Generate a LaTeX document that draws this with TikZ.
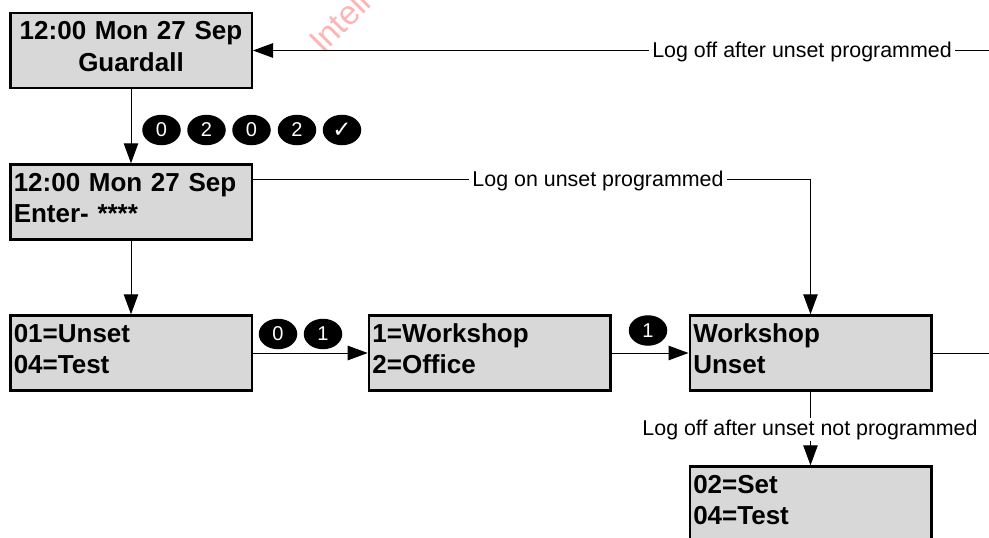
\documentclass[tikz,border=0pt]{standalone}
\usepackage{fontspec}
\setmainfont{Liberation Sans}
\newfontfamily\symfont{DejaVu Sans}
\usetikzlibrary{arrows.meta,shapes.geometric}
\newcommand{\lcdstrut}{\vrule height 20pt depth 10pt width 0pt}
\newcommand{\lcdlines}[2]{\lcdstrut #1\\[1.5pt]\lcdstrut #2}
\definecolor{lcdgrey}{HTML}{D8D8D8}
\definecolor{wmark}{HTML}{FFB4B4}
\tikzset{
  lcd/.style={draw=black,line width=2.5pt,fill=lcdgrey,minimum width=241.5pt,minimum height=75pt,
    inner sep=0pt,font=\fontsize{26}{30}\selectfont\bfseries},
  lcdleft/.style={lcd,text width=234.5pt,align=left},
  lcdcentre/.style={lcd,text width=234.5pt,align=center},
  key/.style={ellipse,fill=black,text=white,minimum width=38.5pt,minimum height=30.5pt,inner sep=0pt,
    font=\fontsize{20}{22}\selectfont},
  link/.style={line width=1pt,draw=black},
  flow/.style={link,-{Triangle[length=20pt,width=14.5pt]}},
  note/.style={fill=white,inner xsep=3pt,inner ysep=2pt,font=\fontsize{21.4}{24}\selectfont}
}
\begin{document}
\begin{tikzpicture}[x=1pt,y=-1pt]
\useasboundingbox (0,0) rectangle (989,538);
\clip (0,0) rectangle (989,538);
\node[anchor=base west,rotate=45,text=wmark,inner sep=0pt,font=\fontsize{33.5}{40}\selectfont] (wm) at (323,55) {Intell};
\node[lcdcentre] (b1) at (131,50.5) {\lcdlines{12:00 Mon 27 Sep}{Guardall}};
\node[lcdleft] (b2) at (131,202) {\lcdlines{12:00 Mon 27 Sep}{Enter- ****}};
\node[lcdleft] (b3) at (131,353) {\lcdlines{01=Unset}{04=Test}};
\node[lcdleft] (b4) at (489.7,353) {\lcdlines{1=Workshop}{2=Office}};
\node[lcdleft] (b5) at (810.5,353) {\lcdlines{Workshop}{Unset}};
\node[lcdleft] (b6) at (810.5,504) {\lcdlines{02=Set}{04=Test}};
\coordinate (offend) at (989,50.5);
\coordinate (unsetend) at (989,353);
\draw[flow] (offend) -- (b1.east);
\draw[flow] (b1.south) -- (b2.north);
\draw[flow] (b2.south) -- (b3.north);
\draw[flow] (b3.east) -- (b4.west);
\draw[flow] (b4.east) -- (b5.west);
\draw[flow] ([yshift=23pt]b2.east) -| (b5.north);
\draw[link] (b5.east) -- (unsetend);
\draw[flow] (b5.south) -- (b6.north);
\node[note] (n1) at (802,52) {\vphantom{g}Log off after unset programmed};
\node[note] (n2) at (598,180.5) {Log on unset programmed};
\node[note] (n3) at (810,429.5) {Log off after unset not programmed};
\node[key] (k1) at (161.5,130) {0};
\node[key] (k2) at (206.5,130) {2};
\node[key] (k3) at (251.5,130) {0};
\node[key] (k4) at (297,130) {2};
\node[key] (k5) at (342,130) {\symfont\fontsize{23}{24}\selectfont ✓};
\node[key] (k6) at (278,334) {0};
\node[key] (k7) at (323,334) {1};
\node[key] (k8) at (648,330.5) {1};
\end{tikzpicture}
\end{document}
